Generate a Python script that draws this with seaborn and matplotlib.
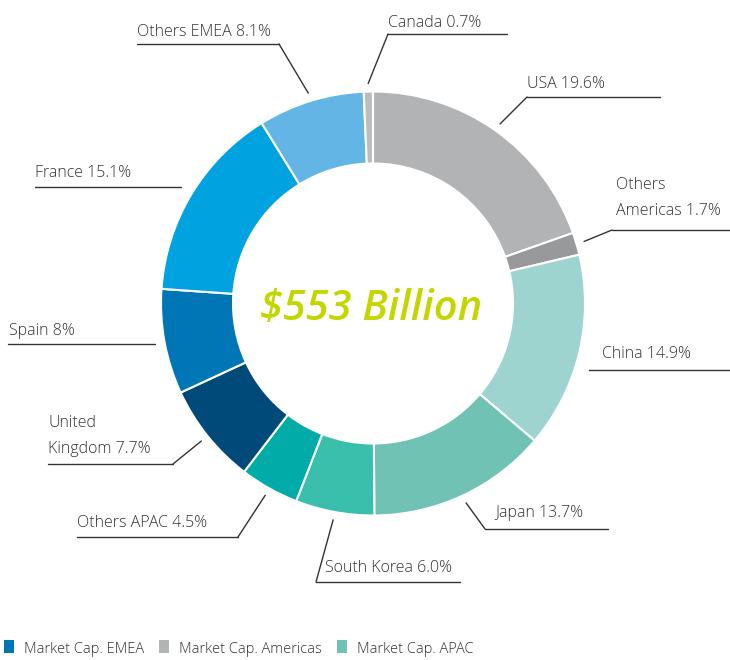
import matplotlib
matplotlib.use('Agg')
import matplotlib.pyplot as plt
from matplotlib import font_manager
import seaborn as sns
import numpy as np

# ─── Data ─────────────────────────────────────────────
regions = ["USA", "Others Americas", "China", "Japan", "South Korea", "Others APAC",
           "United Kingdom", "Spain", "France", "Others EMEA", "Canada"]
shares = [19.6, 1.7, 14.9, 13.7, 6.0, 4.5, 7.7, 8, 15.1, 8.1, 0.7]
label_texts = ["USA 19.6%", "Others\nAmericas 1.7%", "China 14.9%", "Japan 13.7%",
               "South Korea 6.0%", "Others APAC 4.5%", "United\nKingdom 7.7%", "Spain 8%",
               "France 15.1%", "Others EMEA 8.1%", "Canada 0.7%"]
slice_colors = ["#b1b3b5", "#97999b", "#9dd4cf", "#6fc2b4", "#3bbfad", "#00aba8",
                "#004a7a", "#0076b6", "#00a3e0", "#62b5e5", "#bbbcbe"]
legend_names = ["Market Cap. EMEA", "Market Cap. Americas", "Market Cap. APAC"]
legend_colors = ["#0076b6", "#b1b3b5", "#6fc2b4"]
total_text = "$553 Billion"

# ─── Label layout (pixels, y measured from top) ───────
# (line x start, line x end, line y, text x, text baseline y, diagonal leader?)
layout = [
    (527, 660, 97, 527, 88, True),
    (612, 730, 230, 616, 215, True),
    (589, 730, 370, 602, 358, False),
    (485, 608, 529, 495, 517, True),
    (316, 460, 582, 325, 572, True),
    (77, 238, 537, 77, 527, True),
    (48, 173, 464, 48, 453, True),
    (8, 155, 344, 9, 335, False),
    (35, 181, 187, 35, 177, False),
    (137, 279, 44, 137, 36, True),
    (388, 507, 34, 388, 27, True),
]

W, H = 730, 660
cx, cy = 373, 303.5
r_out, ring = 212, 72

sns.set_theme(style="white")
installed = {f.name for f in font_manager.fontManager.ttflist}
if "Liberation Sans Narrow" in installed:
    label_font, label_size = "Liberation Sans Narrow", 14
else:
    label_font, label_size = "Open Sans", 11.5
plt.rcParams['font.family'] = [label_font, 'DejaVu Sans']

fig = plt.figure(figsize=(W / 100, H / 100), dpi=100)
ax = fig.add_axes([0, 0, 1, 1])

ax.pie(shares, colors=slice_colors, startangle=90, counterclock=False,
       radius=r_out, center=(cx, H - cy),
       wedgeprops=dict(width=ring, edgecolor='white', linewidth=1.5))
ax.set_xlim(0, W)
ax.set_ylim(0, H)
ax.set_aspect('equal')
ax.axis('off')

# leader lines + labels
cum = np.cumsum([0] + shares[:-1])
txt_color = "#333333"
for share, start, text, (x0, x1, ly, tx, ty, diag) in zip(shares, cum, label_texts, layout):
    ang = np.deg2rad((start + share / 2) / 100 * 360)
    ax.plot([x0, x1], [H - ly, H - ly], color="#333333", lw=1)
    if diag:
        px = cx + (r_out + 8) * np.sin(ang)
        py = cy - (r_out + 8) * np.cos(ang)
        # join to the line end closest to the slice
        near = x0 if abs(px - x0) < abs(px - x1) else x1
        ax.plot([px, near], [H - py, H - ly], color="#333333", lw=1)
    lines = text.split("\n")
    for i, ln in enumerate(reversed(lines)):
        ax.text(tx, H - (ty - i * 26), ln, fontsize=label_size, color=txt_color,
                fontweight='light', ha='left', va='baseline')

# centre total
ax.text(cx - 2, H - 320, total_text, fontsize=30, color="#c4d600",
        family=['Open Sans', 'DejaVu Sans'], fontweight='semibold', style='italic',
        ha='center', va='baseline')

# legend
legend_x = [4, 159, 337]
for lx, name, col in zip(legend_x, legend_names, legend_colors):
    ax.add_patch(plt.Rectangle((lx, H - 653), 10, 13, color=col, lw=0))
    ax.text(lx + 20, H - 653, name, fontsize=10.5, color="#333333",
            fontweight='light', ha='left', va='baseline')

fig.savefig('out.png', dpi=100)
